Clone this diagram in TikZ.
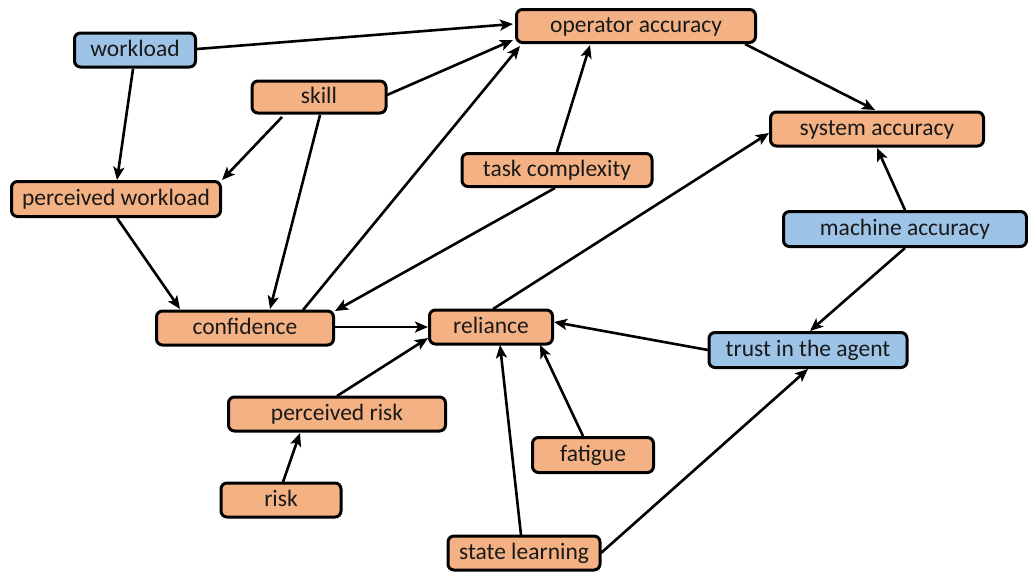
\documentclass[tikz,border=0pt]{standalone}
\usepackage{fontspec}
\setmainfont{Carlito}
\usetikzlibrary{arrows.meta}
\definecolor{boxorange}{HTML}{F4B183}
\definecolor{boxblue}{HTML}{9DC3E6}
\tikzset{
  factor/.style={draw=black, line width=3pt, rounded corners=6pt, fill=boxorange,
    inner sep=0pt, font=\fontsize{23.5}{27}\selectfont, text=black!90,
    text height=16pt, text depth=4pt},
  agentfactor/.style={factor, fill=boxblue},
  link/.style={line width=2.6pt, -{Stealth[length=13pt,width=11pt,inset=3pt]}},
}
\begin{document}
\begin{tikzpicture}[x=1pt,y=-1pt]
\useasboundingbox (0,0) rectangle (1028,573);
% factors: centre, then box size
\node[agentfactor, minimum width=121pt, minimum height=34pt] (wl) at (135,50) {workload};
\node[factor, minimum width=239pt, minimum height=33pt] (oa) at (636,26) {operator accuracy};
\node[factor, minimum width=134pt, minimum height=32pt] (sk) at (319,97) {skill};
\node[factor, minimum width=209pt, minimum height=35pt] (pw) at (116,199) {perceived workload};
\node[factor, minimum width=190pt, minimum height=33pt] (tc) at (557,170) {task complexity};
\node[factor, minimum width=213pt, minimum height=34pt] (sa) at (877,129) {system accuracy};
\node[agentfactor, minimum width=243pt, minimum height=35pt] (ma) at (905,229) {machine accuracy};
\node[factor, minimum width=177pt, minimum height=34pt] (conf) at (245,328) {confidence};
\node[factor, minimum width=123pt, minimum height=34pt] (rel) at (491,327) {reliance};
\node[agentfactor, minimum width=198pt, minimum height=35pt] (tr) at (808,350) {trust in the agent};
\node[factor, minimum width=217pt, minimum height=34pt] (pr) at (337,414) {perceived risk};
\node[factor, minimum width=121pt, minimum height=35pt] (fat) at (593,455) {fatigue};
\node[factor, minimum width=120pt, minimum height=34pt] (risk) at (281,500) {risk};
\node[factor, minimum width=152pt, minimum height=34pt] (sl) at (524,553) {state learning};
% influences
\draw[link] ([shift={(62,-1)}]wl.center) -- ([shift={(-123,-2)}]oa.center);
\draw[link] ([shift={(68,-2)}]sk.center) -- ([shift={(-123,14)}]oa.center);
\draw[link] ([shift={(-37,20)}]sk.center) -- ([shift={(106,-19)}]pw.center);
\draw[link] ([shift={(1,18)}]sk.center) -- ([shift={(25,-19)}]conf.center);
\draw[link] ([shift={(-2,19)}]wl.center) -- ([shift={(1,-19)}]pw.center);
\draw[link] ([shift={(1,19)}]pw.center) -- ([shift={(-65,-19)}]conf.center);
\draw[link] ([shift={(58,-18)}]conf.center) -- ([shift={(-116,20)}]oa.center);
\draw[link] ([shift={(0,-18)}]tc.center) -- ([shift={(-46,19)}]oa.center);
\draw[link] ([shift={(-2,18)}]tc.center) -- ([shift={(90,-17)}]conf.center);
\draw[link] ([shift={(109,18)}]oa.center) -- ([shift={(-2,-19)}]sa.center);
\draw[link] ([shift={(0,-19)}]ma.center) -- ([shift={(0,19)}]sa.center);
\draw[link] ([shift={(0,19)}]ma.center) -- ([shift={(2,-19)}]tr.center);
\draw[link] ([shift={(-100,0)}]tr.center) -- ([shift={(63,-5)}]rel.center);
\draw[link] ([shift={(89,-1)}]conf.center) -- ([shift={(-63,0)}]rel.center);
\draw[link] ([shift={(2,-18)}]rel.center) -- ([shift={(-108,4)}]sa.center);
\draw[link] ([shift={(0,-18)}]pr.center) -- ([shift={(-63,11)}]rel.center);
\draw[link] ([shift={(2,-18)}]risk.center) -- ([shift={(-37,19)}]pr.center);
\draw[link] ([shift={(-10,-19)}]fat.center) -- ([shift={(49,18)}]rel.center);
\draw[link] ([shift={(-3,-18)}]sl.center) -- ([shift={(9,18)}]rel.center);
\draw[link] ([shift={(77,0)}]sl.center) -- ([shift={(0,19)}]tr.center);
\end{tikzpicture}
\end{document}
